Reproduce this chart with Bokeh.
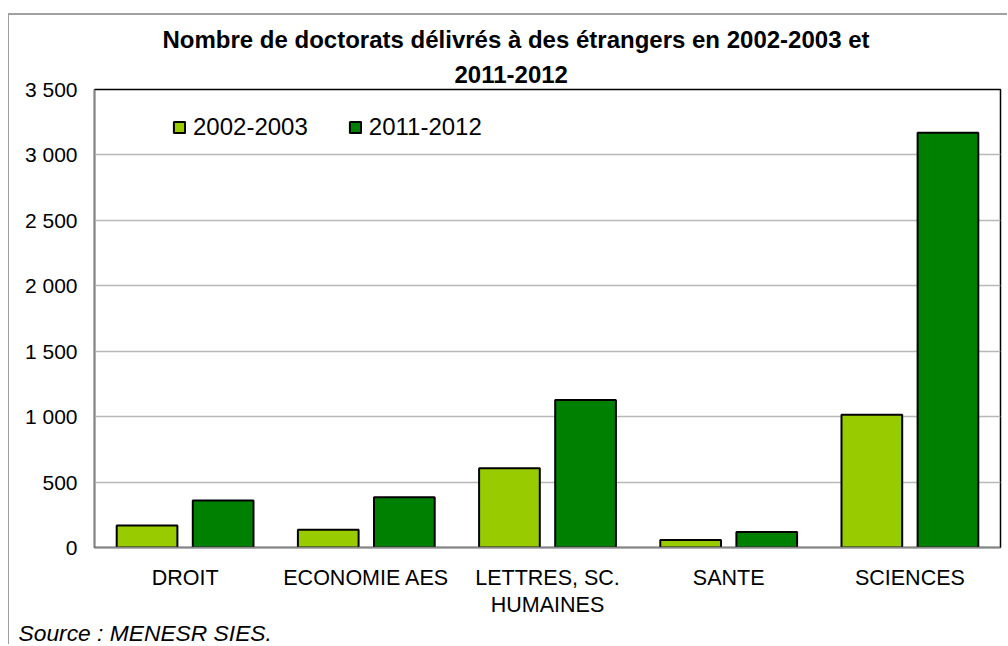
from bokeh.plotting import figure
from bokeh.models import (FactorRange, Range1d, Legend, LegendItem, Title,
                          CustomJSTickFormatter, SingleIntervalTicker, ColumnDataSource)
from bokeh.transform import dodge
from bokeh.embed import file_html
from bokeh.resources import INLINE

# ---- data ----
categories = ["DROIT", "ECONOMIE AES", "LETTRES, SC.\nHUMAINES", "SANTE", "SCIENCES"]
series_names = ["2002-2003", "2011-2012"]
values_2002 = [168, 136, 606, 57, 1014]
values_2011 = [359, 384, 1128, 118, 3170]
y_ticks_interval = 500
y_max = 3500
title_lines = ["Nombre de doctorats délivrés à des étrangers en 2002-2003 et", "2011-2012"]
source_text = "Source : MENESR SIES."

FONT = "Liberation Sans"
colors = ["#99CC00", "#008000"]

src = ColumnDataSource(dict(cat=categories, v1=values_2002, v2=values_2011))

p = figure(width=999, height=631, x_range=FactorRange(*categories, range_padding=0),
           y_range=Range1d(0, y_max), output_backend="svg", toolbar_location=None,
           min_border_left=85, min_border_right=8, min_border_top=74, min_border_bottom=99,
           title=title_lines[0])
p.margin = (13, 0, 0, 8)
p.styles = {"border-top": "2px solid #a0a0a0", "border-left": "1px solid #a0a0a0"}
p.background_fill_color = "white"
p.border_fill_color = "white"
p.outline_line_color = "black"
p.outline_line_width = 1.5

r1 = p.vbar(x=dodge("cat", -0.21, range=p.x_range), top="v1", width=0.335, source=src,
            fill_color=colors[0], line_color="black", line_width=2)
r2 = p.vbar(x=dodge("cat", 0.21, range=p.x_range), top="v2", width=0.335, source=src,
            fill_color=colors[1], line_color="black", line_width=2)

p.xgrid.grid_line_color = None
p.ygrid.grid_line_color = "#b8b8b8"
p.ygrid.grid_line_width = 1.3

p.yaxis.ticker = SingleIntervalTicker(interval=y_ticks_interval, num_minor_ticks=0)
p.yaxis.formatter = CustomJSTickFormatter(code="""
const s = Math.round(tick).toString();
return s.replace(/\\B(?=(\\d{3})+(?!\\d))/g, ' ');
""")
for ax in (p.xaxis[0], p.yaxis[0]):
    ax.axis_line_color = "#868686"
    ax.axis_line_width = 1.5
    ax.major_tick_line_color = None
    ax.minor_tick_line_color = None
    ax.major_tick_out = 0
    ax.major_tick_in = 0
    ax.major_label_text_font = FONT
    ax.major_label_text_color = "black"
p.yaxis.major_label_text_font_size = "21px"
p.xaxis.major_label_text_font_size = "21.5px"
p.xaxis.major_label_text_line_height = 1.15
p.yaxis.major_label_standoff = 17
p.xaxis.major_label_standoff = 18

legend = Legend(items=[LegendItem(label=series_names[0], renderers=[r1]),
                       LegendItem(label=series_names[1], renderers=[r2])],
                orientation="horizontal", location=(78, 406), border_line_color=None,
                background_fill_alpha=0, padding=0, margin=0, spacing=40,
                glyph_width=14, glyph_height=14, label_standoff=7,
                label_text_font=FONT, label_text_font_size="24px", label_text_color="black")
p.add_layout(legend)

# title: first line is the figure title (outer), second line stacked next to the frame
p.title.align = "left"
p.title.offset = 68
p.title.text_font = FONT
p.title.text_font_size = "24px"
p.title.text_font_style = "bold"
p.title.text_color = "black"
p.title.standoff = 7
p.add_layout(Title(text=title_lines[1], align="left", offset=360, text_font=FONT,
                   text_font_size="24px", text_font_style="bold", text_color="black",
                   standoff=14), "above")

p.add_layout(Title(text=source_text, align="left", offset=-76, text_font=FONT,
                   text_font_size="22.8px", text_font_style="italic", text_color="black",
                   standoff=-2, vertical_align="top"), "below")

open("out.html", "w").write(file_html(p, INLINE))
